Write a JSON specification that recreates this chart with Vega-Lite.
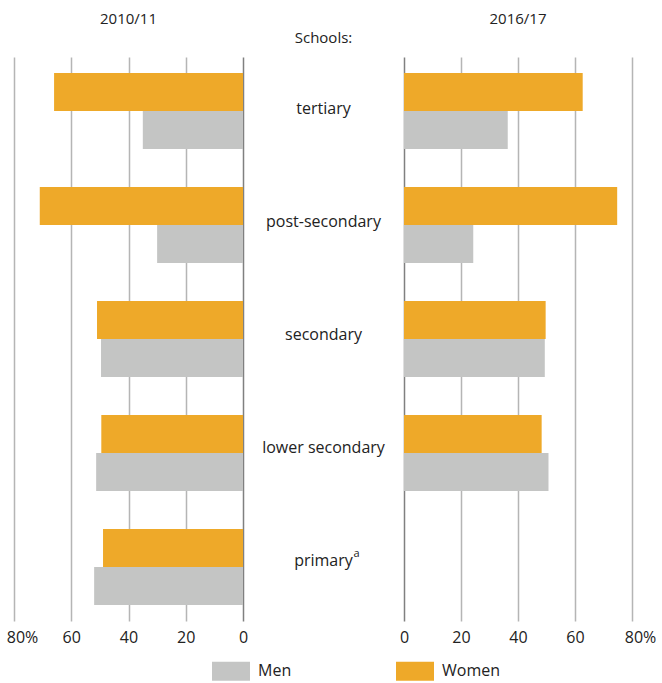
{
  "$schema": "https://vega.github.io/schema/vega-lite/v6.json",
  "padding": {"left": 6, "top": 12, "right": 0, "bottom": 0},
  "spacing": 0,
  "config": {
    "view": {"stroke": null},
    "font": "Open Sans",
    "title": {"fontSize": 15, "fontWeight": "normal", "color": "#222222", "font": "Open Sans"},
    "axis": {"labelFont": "Open Sans"},
    "legend": {"labelFont": "Open Sans"}
  },
  "datasets": {
    "bars": [
      {"year": "2010/11", "school": "tertiary", "gender": "Women", "value": 66},
      {"year": "2010/11", "school": "tertiary", "gender": "Men", "value": 35},
      {"year": "2010/11", "school": "post-secondary", "gender": "Women", "value": 71},
      {"year": "2010/11", "school": "post-secondary", "gender": "Men", "value": 30},
      {"year": "2010/11", "school": "secondary", "gender": "Women", "value": 51},
      {"year": "2010/11", "school": "secondary", "gender": "Men", "value": 49.6},
      {"year": "2010/11", "school": "lower secondary", "gender": "Women", "value": 49.5},
      {"year": "2010/11", "school": "lower secondary", "gender": "Men", "value": 51.3},
      {"year": "2010/11", "school": "primary", "gender": "Women", "value": 48.9},
      {"year": "2010/11", "school": "primary", "gender": "Men", "value": 52},
      {"year": "2016/17", "school": "tertiary", "gender": "Women", "value": 62.7},
      {"year": "2016/17", "school": "tertiary", "gender": "Men", "value": 36.4},
      {"year": "2016/17", "school": "post-secondary", "gender": "Women", "value": 74.8},
      {"year": "2016/17", "school": "post-secondary", "gender": "Men", "value": 24.3},
      {"year": "2016/17", "school": "secondary", "gender": "Women", "value": 49.7},
      {"year": "2016/17", "school": "secondary", "gender": "Men", "value": 49.4},
      {"year": "2016/17", "school": "lower secondary", "gender": "Women", "value": 48.3},
      {"year": "2016/17", "school": "lower secondary", "gender": "Men", "value": 50.7}
    ],
    "schools": [
      {"school": "tertiary", "label": "tertiary", "sup": ""},
      {"school": "post-secondary", "label": "post-secondary", "sup": ""},
      {"school": "secondary", "label": "secondary", "sup": ""},
      {"school": "lower secondary", "label": "lower secondary", "sup": ""},
      {"school": "primary", "label": "primary", "sup": "a"}
    ]
  },
  "hconcat": [
    {
      "width": 229,
      "height": 564,
      "data": {"name": "bars"},
      "transform": [{"filter": "datum.year == '2010/11'"}],
      "title": {"text": "2010/11", "offset": 30, "anchor": "middle"},
      "mark": {"type": "bar"},
      "encoding": {
        "y": {"field": "school", "type": "nominal", "scale": {"domain": ["tertiary", "post-secondary", "secondary", "lower secondary", "primary"], "paddingInner": 0.3333, "paddingOuter": 0.14}, "axis": null},
        "yOffset": {"field": "gender", "type": "nominal", "scale": {"domain": ["Women", "Men"]}},
        "x": {
          "field": "value", "type": "quantitative",
          "scale": {"domain": [0, 80], "reverse": true, "nice": false},
          "axis": {
            "values": [0, 20, 40, 60, 80], "title": null, "domain": false, "ticks": false,
            "labelPadding": 8, "labelFontSize": 16, "labelColor": "#222222", "labelFlush": false, "labelOverlap": false,
            "labelExpr": "datum.value == 80 ? '80%' : datum.label",
            "labelOffset": {"condition": {"test": "datum.value == 80", "value": 8}, "value": 0},
            "gridColor": {"condition": {"test": "datum.value == 0", "value": "#808080"}, "value": "#b5b5b5"},
            "gridWidth": 1.5
          }
        },
        "color": {
          "field": "gender", "type": "nominal",
          "scale": {"domain": ["Men", "Women"], "range": ["#c4c5c4", "#eea929"]},
          "legend": {
            "orient": "none", "legendX": 198, "legendY": 595, "direction": "horizontal", "title": null,
            "symbolType": "M-1,-0.5H1V0.5H-1Z", "symbolSize": 1444, "symbolStrokeWidth": 0, "symbolOpacity": 1,
            "labelFontSize": 16, "labelColor": "#222222", "labelOffset": 8, "columnPadding": 104, "padding": 0,
            "encode": {"symbols": {"update": {"fill": {"signal": "datum.value == 'Women' ? '#fdb945' : '#c4c5c4'"}}}}
          }
        }
      }
    },
    {
      "width": 151,
      "height": 564,
      "data": {"name": "schools"},
      "title": {"text": "Schools:", "offset": 11, "anchor": "middle"},
      "encoding": {
        "y": {"field": "school", "type": "nominal", "scale": {"domain": ["tertiary", "post-secondary", "secondary", "lower secondary", "primary"], "paddingInner": 0.3333, "paddingOuter": 0.14}, "axis": null}
      },
      "layer": [
        {
          "mark": {"type": "text", "fontSize": 16, "color": "#222222", "dy": -4},
          "encoding": {"text": {"field": "label"}}
        },
        {
          "mark": {"type": "text", "fontSize": 11, "color": "#222222", "dy": -11, "dx": 33, "align": "center"},
          "encoding": {"text": {"field": "sup"}}
        }
      ]
    },
    {
      "width": 228,
      "height": 564,
      "data": {"name": "bars"},
      "transform": [{"filter": "datum.year == '2016/17'"}],
      "title": {"text": "2016/17", "offset": 30, "anchor": "middle"},
      "mark": {"type": "bar"},
      "encoding": {
        "y": {"field": "school", "type": "nominal", "scale": {"domain": ["tertiary", "post-secondary", "secondary", "lower secondary", "primary"], "paddingInner": 0.3333, "paddingOuter": 0.14}, "axis": null},
        "yOffset": {"field": "gender", "type": "nominal", "scale": {"domain": ["Women", "Men"]}},
        "x": {
          "field": "value", "type": "quantitative",
          "scale": {"domain": [0, 80], "nice": false},
          "axis": {
            "values": [0, 20, 40, 60, 80], "title": null, "domain": false, "ticks": false,
            "labelPadding": 8, "labelFontSize": 16, "labelColor": "#222222", "labelFlush": false, "labelOverlap": false,
            "labelExpr": "datum.value == 80 ? '80%' : datum.label",
            "labelOffset": {"condition": {"test": "datum.value == 80", "value": 8}, "value": 0},
            "gridColor": {"condition": {"test": "datum.value == 0", "value": "#808080"}, "value": "#b5b5b5"},
            "gridWidth": 1.5
          }
        },
        "color": {
          "field": "gender", "type": "nominal",
          "scale": {"domain": ["Men", "Women"], "range": ["#c4c5c4", "#eea929"]}
        }
      }
    }
  ]
}
